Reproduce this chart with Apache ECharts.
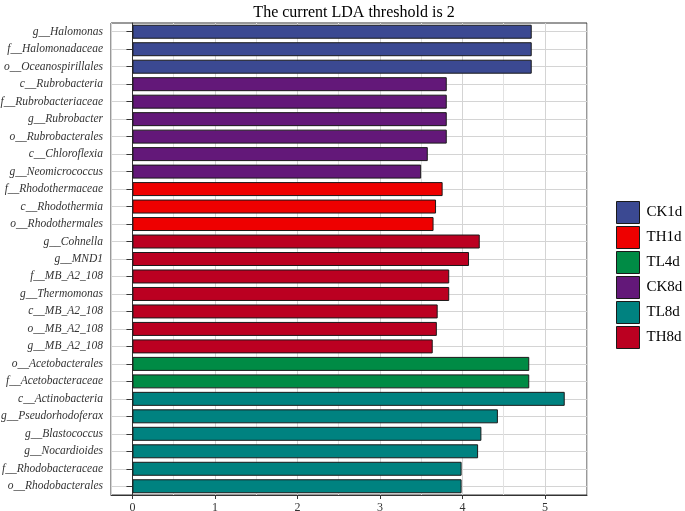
<!DOCTYPE html>
<html lang="en">
<head>
<meta charset="UTF-8">
<title>LDA</title>
<script src="https://cdn.jsdelivr.net/npm/echarts@6/dist/echarts.min.js"></script>
<style>
  html, body { margin: 0; padding: 0; background: #fff; }
  #box { width: 685px; height: 511px; }
</style>
</head>
<body>
<div id="box"></div>
<script>
    // taxa, top to bottom
    var taxa = [
        'g__Halomonas', 'f__Halomonadaceae', 'o__Oceanospirillales',
        'c__Rubrobacteria', 'f__Rubrobacteriaceae', 'g__Rubrobacter', 'o__Rubrobacterales',
        'c__Chloroflexia', 'g__Neomicrococcus',
        'f__Rhodothermaceae', 'c__Rhodothermia', 'o__Rhodothermales',
        'g__Cohnella', 'g__MND1', 'f__MB_A2_108', 'g__Thermomonas',
        'c__MB_A2_108', 'o__MB_A2_108', 'g__MB_A2_108',
        'o__Acetobacterales', 'f__Acetobacteraceae',
        'c__Actinobacteria', 'g__Pseudorhodoferax', 'g__Blastococcus',
        'g__Nocardioides', 'f__Rhodobacteraceae', 'o__Rhodobacterales'
    ];
    // LDA score of each taxon
    var lda = [
        4.84, 4.84, 4.84,
        3.81, 3.81, 3.81, 3.81,
        3.58, 3.50,
        3.76, 3.68, 3.65,
        4.21, 4.08, 3.84, 3.84,
        3.70, 3.69, 3.64,
        4.81, 4.81,
        5.24, 4.43, 4.23,
        4.19, 3.99, 3.99
    ];
    // group of each taxon
    var taxonGroup = [
        'CK1d', 'CK1d', 'CK1d',
        'CK8d', 'CK8d', 'CK8d', 'CK8d',
        'CK8d', 'CK8d',
        'TH1d', 'TH1d', 'TH1d',
        'TH8d', 'TH8d', 'TH8d', 'TH8d',
        'TH8d', 'TH8d', 'TH8d',
        'TL4d', 'TL4d',
        'TL8d', 'TL8d', 'TL8d',
        'TL8d', 'TL8d', 'TL8d'
    ];
    // legend order and colours
    var groups = ['CK1d', 'TH1d', 'TL4d', 'CK8d', 'TL8d', 'TH8d'];
    var groupColors = ['#3B4992', '#EE0000', '#008B45', '#631879', '#008280', '#BB0021'];
    // x ticks and the lighter half-step grid lines
    var xTicks = [0, 1, 2, 3, 4, 5];
    var xMinorBreaks = [0.5, 1.5, 2.5, 3.5, 4.5];

    var serif = 'Liberation Serif, Times New Roman, serif';

    var myChart = echarts.init(document.getElementById('box'), null, { renderer: 'canvas' });

    // one series per group, empty where the taxon belongs elsewhere
    var series = [];
    for (var g = 0; g < groups.length; g++) {
        var d = [];
        for (var i = 0; i < taxa.length; i++) {
            d.push(taxonGroup[i] == groups[g] ? lda[i] : '-');
        }
        series.push({
            name: groups[g],
            type: 'bar',
            stack: 'lda',
            data: d,
            barCategoryGap: '20%',
            z: 3,
            itemStyle: { color: groupColors[g], borderColor: '#1a1a1a', borderWidth: 1 }
        });
    }
    // half-step vertical grid lines, kept under the bars
    var minorLines = [];
    for (var k = 0; k < xMinorBreaks.length; k++) minorLines.push({ xAxis: xMinorBreaks[k] });
    series.push({
        name: 'minor',
        type: 'line',
        data: [],
        z: 1,
        silent: true,
        markLine: {
            z: 1,
            silent: true,
            symbol: 'none',
            label: { show: false },
            lineStyle: { color: '#e2e2e2', width: 1, type: 'solid' },
            data: minorLines
        }
    });

    var option = {
        animation: false,
        title: {
            text: 'The current LDA threshold is 2',
            left: 349,
            textAlign: 'center',
            top: 0,
            textStyle: { fontFamily: serif, fontSize: 16, fontWeight: 'normal', color: '#000' }
        },
        legend: {
            data: groups,
            orient: 'vertical',
            left: 611,
            top: 196,
            itemWidth: 23,
            itemHeight: 22,
            itemGap: 2,
            icon: 'rect',
            textStyle: { fontFamily: serif, fontSize: 15, color: '#000', padding: [0, 0, 0, 2] },
            itemStyle: { borderColor: '#1a1a1a', borderWidth: 1 }
        },
        grid: {
            left: 111, right: 98, top: 23, bottom: 16,
            outerBoundsMode: 'none',
            containLabel: false,
            show: true, borderColor: '#333', borderWidth: 1
        },
        xAxis: {
            type: 'value',
            min: -0.26,
            max: 5.51,
            axisLine: { show: true, lineStyle: { color: '#333' } },
            axisTick: { show: true, length: 4, lineStyle: { color: '#333' } },
            axisLabel: {
                fontFamily: serif, fontSize: 12, color: '#333', margin: 7,
                showMinLabel: false, showMaxLabel: false,
                formatter: function (v) { return xTicks.indexOf(v) >= 0 ? String(v) : ''; }
            },
            splitLine: { show: true, lineStyle: { color: '#d4d4d4' } }
        },
        yAxis: {
            type: 'category',
            inverse: true,
            data: taxa,
            axisLine: { show: true, lineStyle: { color: '#333' } },
            axisTick: { show: true, alignWithLabel: true, length: 6, lineStyle: { color: '#333' } },
            axisLabel: { fontFamily: serif, fontStyle: 'italic', fontSize: 11.5, color: '#333', margin: 8 },
            splitLine: { show: true, alignWithLabel: true, lineStyle: { color: '#d4d4d4' } }
        },
        series: series
    };
    myChart.setOption(option);
</script>
</body>
</html>
